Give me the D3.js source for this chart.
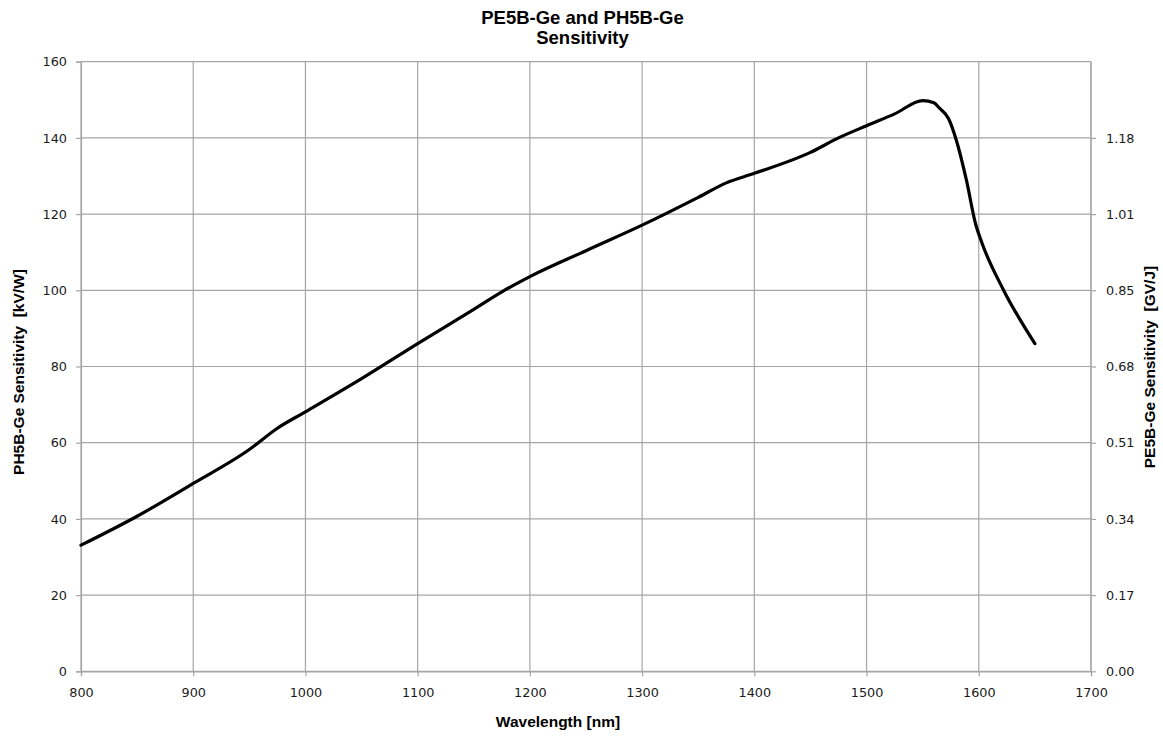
<!DOCTYPE html>
<html>
<head>
<meta charset="utf-8">
<script src="https://cdn.jsdelivr.net/npm/d3@7"></script>
<style>
  html, body { margin: 0; padding: 0; background: #fff; }
  svg { display: block; }
</style>
</head>
<body>
<svg id="chart" width="1163" height="738"></svg>
<script>
// ---- Data ----
const wavelength = [800, 850, 900, 950, 975, 1000, 1050, 1100, 1150, 1175, 1200, 1250, 1300, 1350, 1375, 1400, 1450, 1475, 1500, 1525, 1550, 1560, 1565, 1573, 1580, 1589, 1597, 1603, 1622, 1650];
const sensitivity = [33.1, 40.7, 49.3, 58.2, 63.8, 68.1, 76.8, 86.0, 95.0, 99.6, 103.6, 110.4, 117.1, 124.4, 128.2, 130.7, 136.2, 140.0, 143.2, 146.3, 149.8, 149.2, 147.8, 145.1, 139.4, 128.9, 117.6, 112.3, 100.1, 86.0];
const xTicks = [800, 900, 1000, 1100, 1200, 1300, 1400, 1500, 1600, 1700];
const yTicks = [0, 20, 40, 60, 80, 100, 120, 140, 160];
const rightTickValues = [0, 20, 40, 60, 80, 100, 120, 140];
const rightTickLabels = ["0.00", "0.17", "0.34", "0.51", "0.68", "0.85", "1.01", "1.18"];
const titleLines = ["PE5B-Ge and PH5B-Ge", "Sensitivity"];
const xTitle = "Wavelength [nm]";
const yTitleLeft = "PH5B-Ge Sensitivity\u00A0 [kV/W]";
const yTitleRight = "PE5B-Ge Sensitivity\u00A0 [GV/J]";

// ---- Layout ----
const svg = d3.select("#chart");
const pLeft = 81, pRight = 1091, pTop = 61.7, pBottom = 671.3;
const x = d3.scaleLinear().domain([800, 1700]).range([pLeft, pRight]);
const y = d3.scaleLinear().domain([0, 160]).range([pBottom, pTop]);
const gridColor = "#a6a6a6";
const tickFont = "DejaVu Sans, Verdana, sans-serif";
const titleFont = "Liberation Sans, Arial, sans-serif";

// gridlines
const grid = svg.append("g");
grid.selectAll("line.v").data(xTicks).join("line").attr("class", "v")
  .attr("x1", d => x(d)).attr("x2", d => x(d))
  .attr("y1", pTop).attr("y2", pBottom)
  .attr("stroke", gridColor).attr("stroke-width", 1.2);
grid.selectAll("line.h").data(yTicks).join("line").attr("class", "h")
  .attr("x1", pLeft).attr("x2", pRight)
  .attr("y1", d => y(d)).attr("y2", d => y(d))
  .attr("stroke", gridColor).attr("stroke-width", 1.2);

function styleAxis(g) {
  g.selectAll("path.domain").attr("stroke", gridColor).attr("stroke-width", 1.2);
  g.selectAll(".tick line").attr("stroke", gridColor).attr("stroke-width", 1.2);
  g.selectAll(".tick text").attr("fill", "#1a1a1a").style("font-family", tickFont).style("font-size", "12.8px");
}

// bottom axis
const xAxis = svg.append("g").attr("transform", `translate(0,${pBottom})`)
  .call(d3.axisBottom(x).tickValues(xTicks).tickSize(5).tickSizeOuter(5).tickPadding(12).tickFormat(d3.format("d")));
styleAxis(xAxis);

// left axis
const yAxis = svg.append("g").attr("transform", `translate(${pLeft},0)`)
  .call(d3.axisLeft(y).tickValues(yTicks).tickSize(5).tickSizeOuter(5).tickPadding(9).tickFormat(d3.format("d")));
styleAxis(yAxis);

// right axis
const yAxisR = svg.append("g").attr("transform", `translate(${pRight},0)`)
  .call(d3.axisRight(y).tickValues(rightTickValues).tickSize(5).tickSizeOuter(0).tickPadding(10)
    .tickFormat((d, i) => rightTickLabels[i]));
styleAxis(yAxisR);
yAxisR.select("path.domain").attr("d", `M0,${y(160)}V${y(0)}`);

// curve
const line = d3.line().x((d, i) => x(wavelength[i])).y(d => y(d)).curve(d3.curveMonotoneX);
svg.append("path").datum(sensitivity)
  .attr("d", line).attr("fill", "none").attr("stroke", "#000")
  .attr("stroke-width", 3.2).attr("stroke-linejoin", "round").attr("stroke-linecap", "round");

// titles
svg.append("text").attr("text-anchor", "middle")
  .style("font-family", titleFont).style("font-weight", "bold").style("font-size", "18.5px")
  .selectAll("tspan").data(titleLines).join("tspan")
  .attr("x", 582.5).attr("y", (d, i) => 23.5 + i * 20).text(d => d);

svg.append("text").attr("x", 558).attr("y", 727).attr("text-anchor", "middle")
  .style("font-family", titleFont).style("font-weight", "bold").style("font-size", "15.5px")
  .text(xTitle);

svg.append("text").attr("transform", `translate(24,372) rotate(-90)`).attr("text-anchor", "middle")
  .style("font-family", titleFont).style("font-weight", "bold").style("font-size", "15.5px")
  .text(yTitleLeft);

svg.append("text").attr("transform", `translate(1155,367) rotate(-90)`).attr("text-anchor", "middle")
  .style("font-family", titleFont).style("font-weight", "bold").style("font-size", "15.5px")
  .text(yTitleRight);
</script>
</body>
</html>
